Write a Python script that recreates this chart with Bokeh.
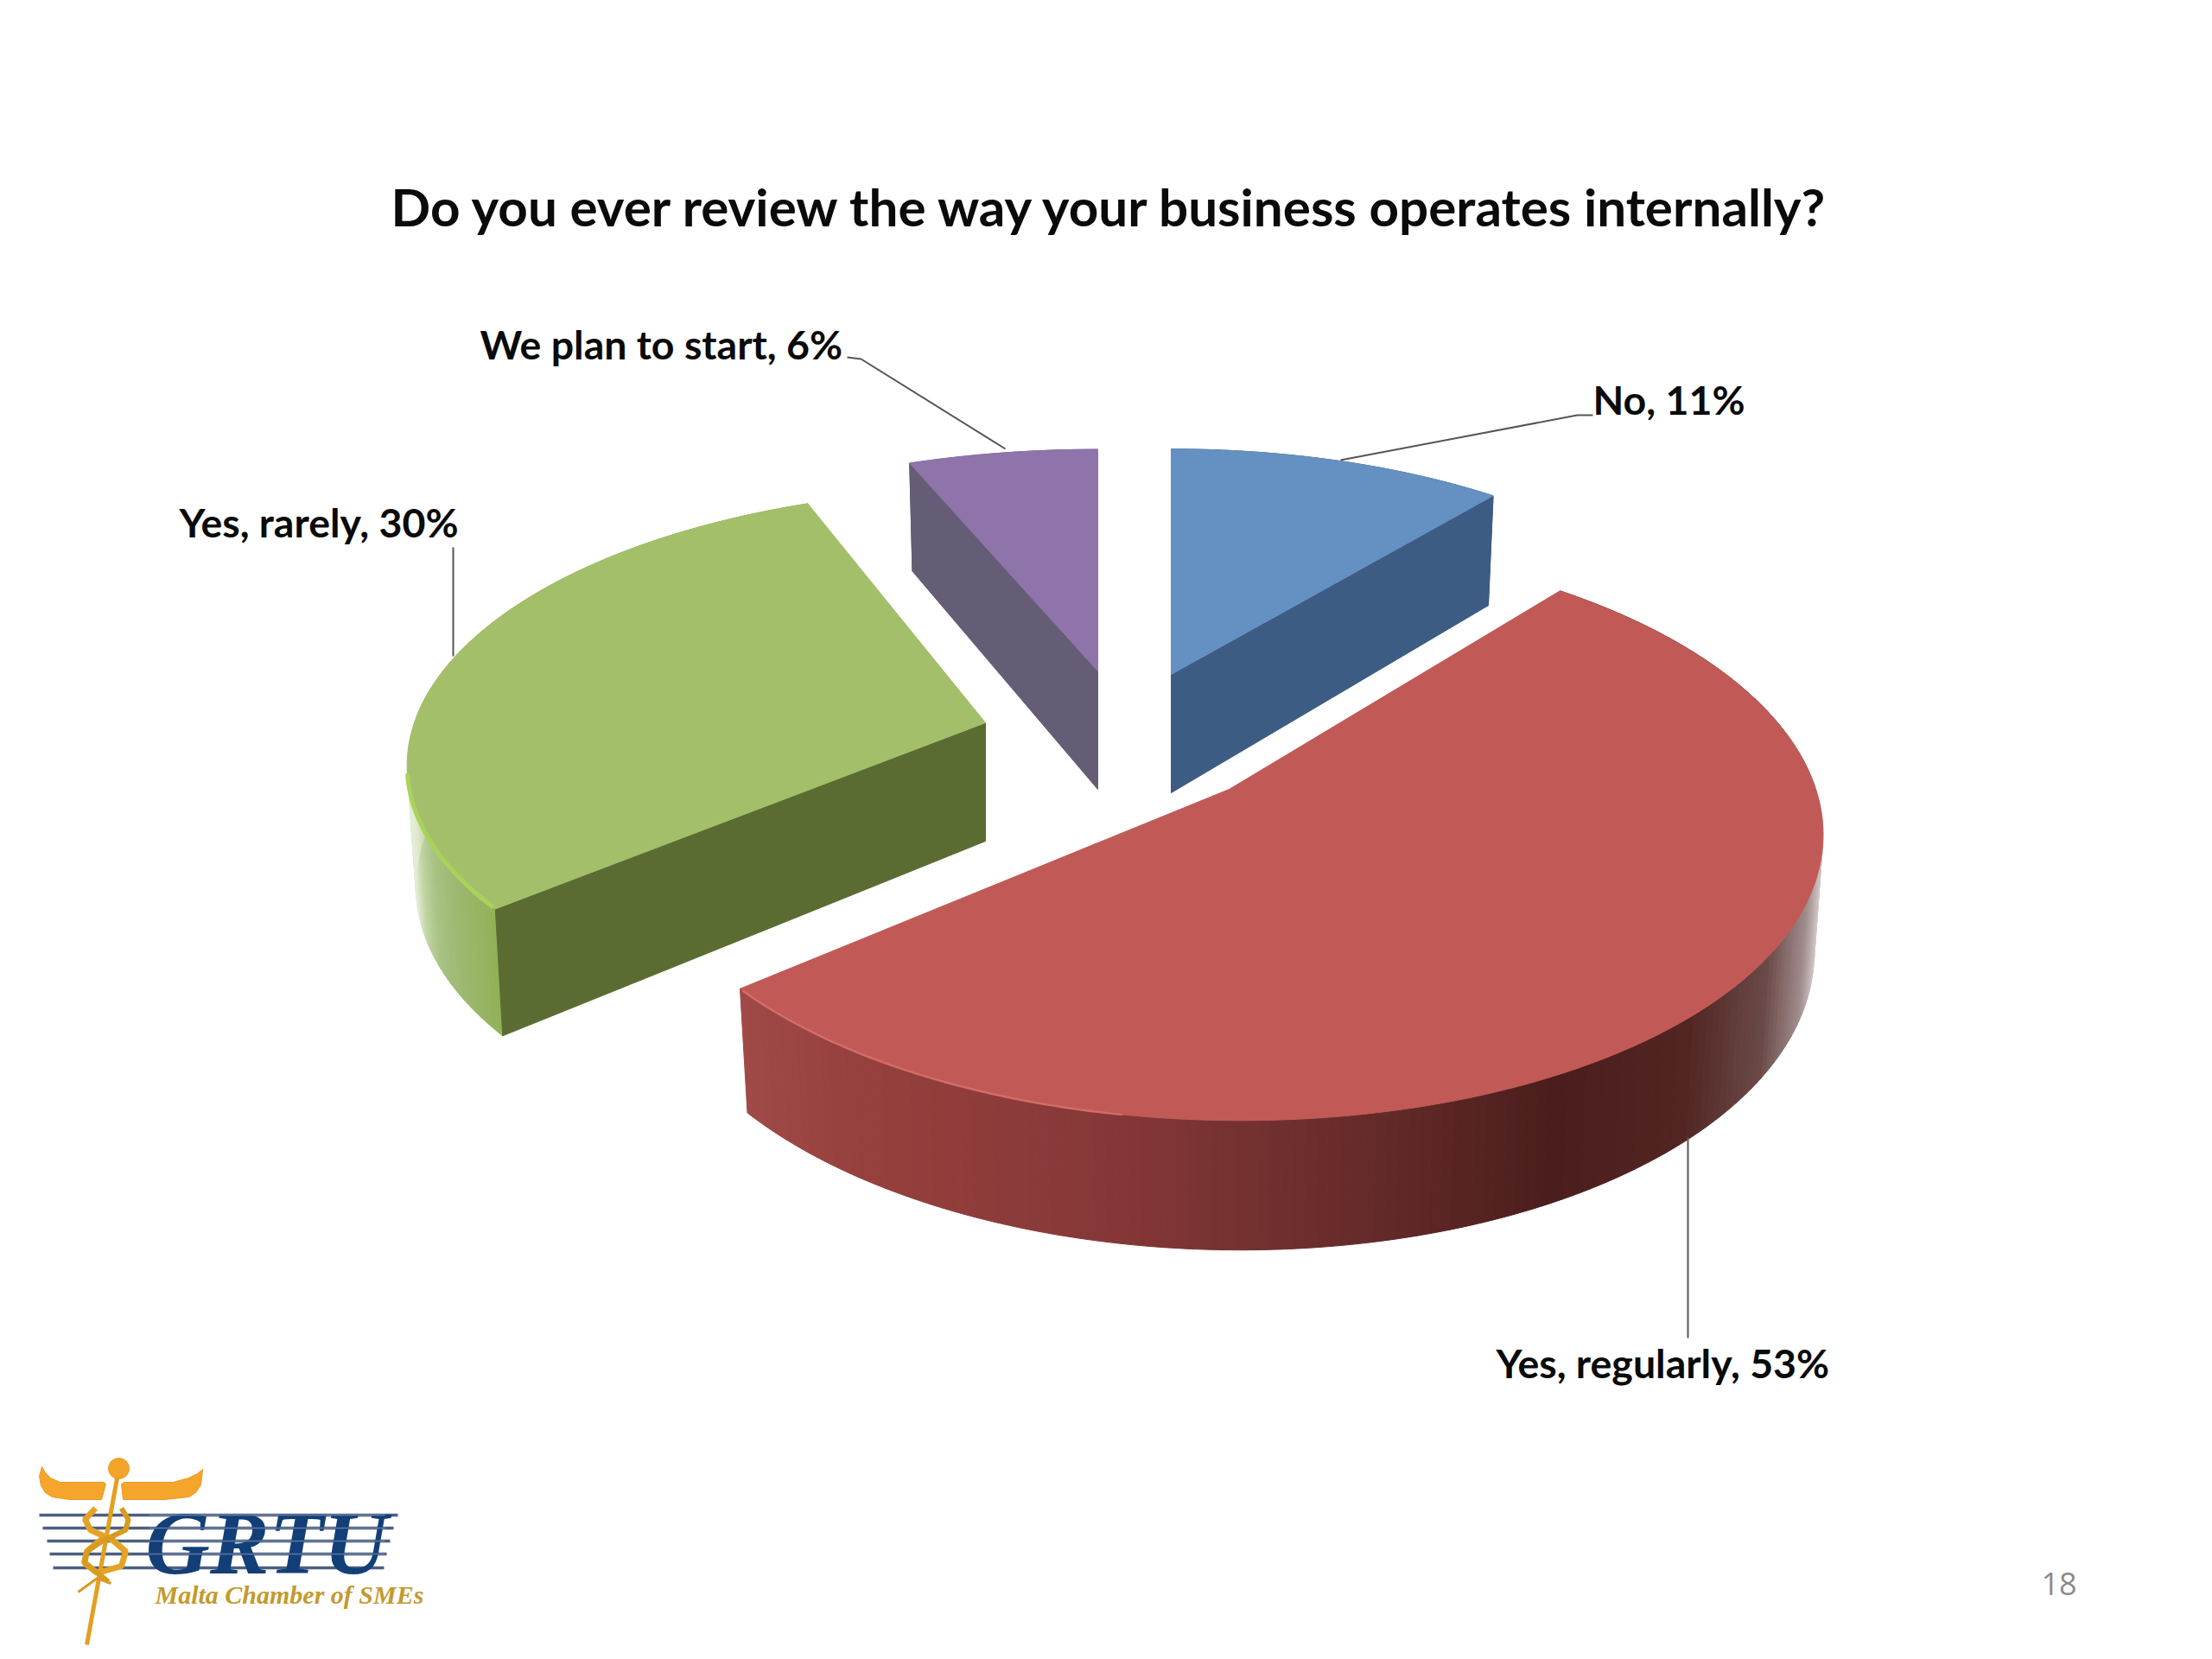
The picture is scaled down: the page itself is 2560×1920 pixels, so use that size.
import numpy as np
from bokeh.core.properties import value
from bokeh.embed import file_html
from bokeh.models import Range1d
from bokeh.plotting import figure
from bokeh.resources import INLINE

# ---------- chart values ----------
TITLE = "Do you ever review the way your business operates internally?"
categories = ["No", "Yes, regularly", "Yes, rarely", "We plan to start"]
percent = [11, 53, 30, 6]

# ---------- styles and layout (page pixels) ----------
top_colors = ["#6590C2", "#C15A57", "#A4BF6A", "#8E74AB"]
face_colors = ["#3D5C84", None, "#5A6C32", "#655D75"]
centers = [(1355, 780), (1422, 913), (1140, 836), (1270, 776)]
radii = [(647, 297), (679, 330), (661, 308), (668, 292)]
skews = [0, -11.5, 12, 0]
depths = [137, 134, 137, 137]
PERSP = 0.139
BOTTOM_SCALE = 0.985

wall_stops = {
    1: ([857, 1000, 1300, 1600, 1800, 1950, 2040, 2085, 2105, 2120],
        ["#A04A48", "#96403D", "#843737", "#622A28", "#4B1D1D", "#522523", "#6A4A48", "#A08C8C", "#D9D0D0", "#F0ECEC"]),
    2: ([478, 490, 505, 530, 560, 590],
        ["#E4ECD6", "#BFD3A0", "#A8C283", "#9DB870", "#96B35F", "#8FAE50"]),
    0: ([1355, 1800], ["#3D5C84", "#3D5C84"]),
    3: ([1000, 1300], ["#655D75", "#655D75"]),
}

labels = ["No, 11%", "Yes, regularly, 53%", "Yes, rarely, 30%", "We plan to start, 6%"]
label_pos = [(1843, 461), (1731, 1576), (207, 603), (555, 397)]
leaders = [
    ([1551, 1825, 1843], [532, 480, 480]),
    ([1953, 1953], [1316, 1548]),
    ([524, 524], [633, 759]),
    ([980, 996, 1163], [413, 415, 519]),
]


def hex2rgb(h):
    return np.array([int(h[i:i + 2], 16) for i in (1, 3, 5)], float)


def grad(x, stops):
    xs, cs = stops
    rgb = np.array([hex2rgb(c) for c in cs])
    v = [np.interp(x, xs, rgb[:, k]) for k in range(3)]
    return "#%02x%02x%02x" % tuple(int(round(a)) for a in v)


def project(theta_deg, c, r, sk, d=0.0):
    """Clockwise angle from 12 o'clock on the pie -> page pixels. d = wall depth."""
    t = np.radians(np.asarray(theta_deg, float))
    X, Y = np.sin(t), np.cos(t)
    w = 1 + PERSP * Y
    sx = 1.0 if d == 0 else BOTTOM_SCALE
    return c[0] + sx * (r[0] * X + sk * Y) / w, c[1] - r[1] * Y / w + d / w ** 0.75


p = figure(width=2544, height=1904, x_range=Range1d(0, 2544), y_range=Range1d(1904, 0),
           output_backend="svg", toolbar_location=None, min_border=0,
           background_fill_color="white", border_fill_color="white", outline_line_color=None)
p.axis.visible = False
p.grid.visible = False

# ---------- pie from the values ----------
edges = np.concatenate([[0], np.cumsum(percent)]) * 3.6

for i in range(len(percent)):
    a0, a1 = edges[i], edges[i + 1]
    c, r, d, sk = centers[i], radii[i], depths[i], skews[i]
    th = np.arange(a0, a1 + 0.01, 1.0)
    if th[-1] < a1:
        th = np.append(th, a1)
    tx, ty = project(th, c, r, sk)
    bx, by = project(th, c, r, sk, d)

    # outer wall as thin strips, shaded across the page
    sxs, sys, scs = [], [], []
    for k in range(len(th) - 1):
        sxs.append([tx[k], tx[k + 1], bx[k + 1], bx[k]])
        sys.append([ty[k], ty[k + 1], by[k + 1], by[k]])
        scs.append(grad((tx[k] + bx[k + 1]) / 2, wall_stops[i]))
    p.patches(sxs, sys, fill_color=scs, line_color=scs, line_width=1)

    # cut face
    if face_colors[i]:
        ang = a1 if i == 0 else a0
        ex, ey = project(ang, c, r, sk)
        fx, fy = project(ang, c, r, sk, d)
        ax, ay = c
        p.patch([ax, ex, fx, ax], [ay, ey, fy, ay + d], fill_color=face_colors[i],
                line_color=face_colors[i], line_width=1)

    # top
    p.patch([c[0], *tx], [c[1], *ty], fill_color=top_colors[i], line_color=top_colors[i], line_width=1)

# rim highlights
hx, hy = project(np.arange(231, 260, 1.0), centers[2], radii[2], skews[2])
p.line(hx, hy, line_color="#A9D25C", line_width=5, line_cap="round")
hx, hy = project(np.arange(190, 231, 1.0), centers[1], radii[1], skews[1])
p.line(hx, hy, line_color="#D46C6A", line_width=2.5)

# ---------- leaders and labels ----------
for lx, ly in leaders:
    p.line(lx, ly, line_color="#555555", line_width=2)

p.text([x for x, _ in label_pos], [y for _, y in label_pos], text=labels,
       text_font=value("Lato"), text_font_style="bold", text_font_size="46.5px",
       text_color="#0A0A0A", text_align="left", text_baseline="alphabetic")
p.text([452], [238], text=[TITLE], text_font=value("Lato"), text_font_style="bold",
       text_font_size="60.2px", text_color="#0A0A0A", text_align="left", text_baseline="alphabetic")
p.text([2362], [1832], text=["18"], text_font=value("Open Sans"), text_font_size="36px",
       text_color="#8B8B8B", text_align="left", text_baseline="alphabetic")

# ---------- logo ----------
for yy, x0, x1 in [(1753, 45, 460), (1768, 49, 455), (1783, 54, 451), (1798, 57, 447), (1814, 61, 444)]:
    p.line([x0, x1], [yy, yy], line_color="#4D5F80", line_width=3.5)

p.text([168], [1785], text=["GRTU"], text_font=value("Liberation Serif"), text_font_style="bold italic",
       text_font_size="103px", text_color="#123F78", text_align="left", text_baseline="alphabetic")
for yy, x0, x1 in [(1753, 172, 445), (1768, 172, 445), (1783, 172, 445), (1798, 172, 445)]:
    p.line([x0, x1], [yy, yy], line_color="#8093B0", line_width=1.5, line_alpha=0.7)
p.text([179], [1845], text=["Malta Chamber of SMEs"], text_font=value("Liberation Serif"),
       text_font_style="bold italic", text_font_size="30px", text_color="#C49A2E",
       text_align="left", text_baseline="alphabetic")

p.patch([48, 45, 47, 52, 60, 80, 117, 122, 120, 69, 58, 52],
        [1697, 1708, 1719, 1727, 1732, 1735, 1735, 1717, 1715, 1715, 1710, 1704],
        fill_color="#F5A52B", line_color="#E89A20", line_width=1)
p.patch([234, 233, 232, 226, 218, 190, 142, 140, 143, 200, 218, 228],
        [1700, 1710, 1718, 1727, 1732, 1735, 1735, 1717, 1715, 1715, 1710, 1705],
        fill_color="#F5A52B", line_color="#E89A20", line_width=1)
p.line([136, 100], [1705, 1903], line_color="#E3A01F", line_width=5)
p.scatter([137], [1699], size=24, fill_color="#F4A42A", line_color="#E89A20")
p.line([110, 98, 104, 130, 145, 140, 112, 97, 100, 112, 125],
       [1745, 1758, 1770, 1782, 1795, 1812, 1820, 1808, 1795, 1785, 1775],
       line_color="#E5A325", line_width=7)
p.line([140, 148, 145, 118, 100, 98, 115, 125],
       [1745, 1758, 1770, 1783, 1795, 1808, 1822, 1830],
       line_color="#D99A20", line_width=6)
p.line([90, 112, 128], [1842, 1826, 1832], line_color="#D99A20", line_width=3)

open("out.html", "w").write(file_html(p, INLINE))
